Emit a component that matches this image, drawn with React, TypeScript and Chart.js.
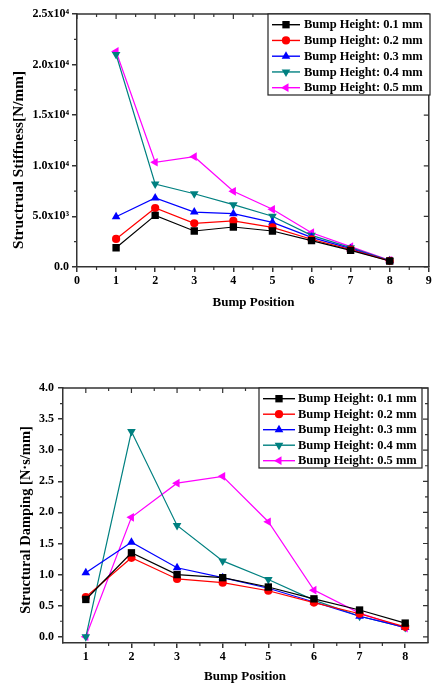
import React, { useEffect, useRef } from "react";
import { Chart, registerables } from "chart.js";

Chart.register(...registerables);

// ---------------- data ----------------
const positions = [1, 2, 3, 4, 5, 6, 7, 8];
const seriesLabels = [
  "Bump Height: 0.1 mm",
  "Bump Height: 0.2 mm",
  "Bump Height: 0.3 mm",
  "Bump Height: 0.4 mm",
  "Bump Height: 0.5 mm",
];

const stiff01 = [1900, 5100, 3560, 3950, 3560, 2600, 1650, 590];
const stiff02 = [2770, 5830, 4320, 4550, 3920, 2740, 1710, 600];
const stiff03 = [4970, 6820, 5430, 5270, 4410, 2930, 1810, 620];
const stiff04 = [21000, 8200, 7240, 6160, 5010, 3130, 1910, 640];
const stiff05 = [21300, 10350, 10900, 7480, 5700, 3390, 2010, 650];

const damp01 = [0.6, 1.35, 1.0, 0.95, 0.8, 0.61, 0.43, 0.22];
const damp02 = [0.64, 1.27, 0.93, 0.87, 0.74, 0.55, 0.37, 0.16];
const damp03 = [1.03, 1.52, 1.11, 0.95, 0.78, 0.56, 0.33, 0.15];
const damp04 = [0.0, 3.3, 1.79, 1.22, 0.92, 0.59, 0.33, 0.15];
const damp05 = [0.0, 1.92, 2.47, 2.58, 1.85, 0.75, 0.38, 0.14];

const stiffXTicks = [0, 1, 2, 3, 4, 5, 6, 7, 8, 9];
const stiffXMinor = [0.5, 1.5, 2.5, 3.5, 4.5, 5.5, 6.5, 7.5, 8.5];
const stiffYTicks = [0, 5000, 10000, 15000, 20000, 25000];
const stiffYTickLabels = ["0.0", "5.0x10³", "1.0x10⁴", "1.5x10⁴", "2.0x10⁴", "2.5x10⁴"];
const stiffYMinor = [2500, 7500, 12500, 17500, 22500];

const dampXTicks = [1, 2, 3, 4, 5, 6, 7, 8];
const dampXMinor = [1.5, 2.5, 3.5, 4.5, 5.5, 6.5, 7.5];
const dampYTicks = [0, 0.5, 1.0, 1.5, 2.0, 2.5, 3.0, 3.5, 4.0];
const dampYTickLabels = ["0.0", "0.5", "1.0", "1.5", "2.0", "2.5", "3.0", "3.5", "4.0"];
const dampYMinor = [0.25, 0.75, 1.25, 1.75, 2.25, 2.75, 3.25, 3.75];

// ---------------- styles ----------------
const FONT = "'Liberation Serif', 'Times New Roman', serif";
const AXIS_COLOR = "#333333";
const seriesColors = ["#000000", "#ff0000", "#0000ff", "#008080", "#ff00ff"];
const pointStyles = ["rect", "circle", "triangle", "triangle", "triangle"];
const pointRotations = [0, 0, 0, 180, 270];
const pointRadii = [5.2, 4.1, 5.0, 5.0, 5.0];

function makeDatasets(series: number[][]) {
  return series.map((vals, i) => ({
    label: seriesLabels[i],
    data: vals.map((v, j) => ({ x: positions[j], y: v })),
    borderColor: seriesColors[i],
    backgroundColor: seriesColors[i],
    borderWidth: 1.2,
    pointStyle: pointStyles[i],
    rotation: pointRotations[i],
    pointRadius: pointRadii[i],
    pointBorderWidth: 0,
    pointBackgroundColor: seriesColors[i],
    tension: 0,
  }));
}

function drawMarker(ctx: CanvasRenderingContext2D, i: number, x: number, y: number) {
  const r = pointRadii[i];
  ctx.fillStyle = seriesColors[i];
  ctx.beginPath();
  if (pointStyles[i] === "rect") {
    const s = Math.SQRT1_2 * r;
    ctx.rect(x - s, y - s, 2 * s, 2 * s);
  } else if (pointStyles[i] === "circle") {
    ctx.arc(x, y, r, 0, Math.PI * 2);
  } else {
    let rad = (pointRotations[i] * Math.PI) / 180;
    for (let k = 0; k < 3; k++) {
      const px = x + Math.sin(rad) * r;
      const py = y - Math.cos(rad) * r;
      if (k === 0) ctx.moveTo(px, py);
      else ctx.lineTo(px, py);
      rad += (2 * Math.PI) / 3;
    }
    ctx.closePath();
  }
  ctx.fill();
}

type FrameCfg = {
  xMajor: number[];
  xMinor: number[];
  yMajor: number[];
  yMinor: number[];
  xTitle: string;
  xTitlePos: [number, number];
  yTitle: string;
  yTitlePos: [number, number];
  yTitleSize: number;
  legendBox: [number, number, number, number];
  legendRow0: number;
  legendRowGap: number;
  legendLine: [number, number];
  legendMarkerX: number;
  legendTextX: number;
};

function makeFramePlugin(cfg: FrameCfg) {
  return {
    id: "frameDecor",
    afterDraw(chart: any) {
      const ctx: CanvasRenderingContext2D = chart.ctx;
      const a = chart.chartArea;
      const xs = chart.scales.x;
      const ys = chart.scales.y;
      ctx.save();
      ctx.strokeStyle = AXIS_COLOR;
      ctx.lineWidth = 1.5;
      ctx.beginPath();
      ctx.moveTo(a.left, a.top);
      ctx.lineTo(a.right, a.top);
      ctx.lineTo(a.right, a.bottom);
      ctx.stroke();

      ctx.lineWidth = 1.2;
      ctx.beginPath();
      const seg = (x1: number, y1: number, x2: number, y2: number) => {
        ctx.moveTo(x1, y1);
        ctx.lineTo(x2, y2);
      };
      cfg.xMajor.forEach((v) => {
        const px = xs.getPixelForValue(v);
        seg(px, a.top, px, a.top + 5);
      });
      cfg.xMinor.forEach((v) => {
        const px = xs.getPixelForValue(v);
        seg(px, a.top, px, a.top + 3);
        seg(px, a.bottom, px, a.bottom + 3);
      });
      cfg.yMajor.forEach((v) => {
        const py = ys.getPixelForValue(v);
        seg(a.right, py, a.right - 5, py);
      });
      cfg.yMinor.forEach((v) => {
        const py = ys.getPixelForValue(v);
        seg(a.right, py, a.right - 3, py);
        seg(a.left, py, a.left - 3, py);
      });
      ctx.stroke();

      // axis titles
      ctx.fillStyle = "#000";
      ctx.textAlign = "center";
      ctx.textBaseline = "middle";
      ctx.font = `bold 13px ${FONT}`;
      ctx.fillText(cfg.xTitle, cfg.xTitlePos[0], cfg.xTitlePos[1]);
      ctx.save();
      ctx.translate(cfg.yTitlePos[0], cfg.yTitlePos[1]);
      ctx.rotate(-Math.PI / 2);
      ctx.font = `bold ${cfg.yTitleSize}px ${FONT}`;
      ctx.fillText(cfg.yTitle, 0, 0);
      ctx.restore();

      // legend
      const [bx, by, bw, bh] = cfg.legendBox;
      ctx.fillStyle = "#fff";
      ctx.fillRect(bx, by, bw, bh);
      ctx.strokeStyle = "#222";
      ctx.lineWidth = 1.2;
      ctx.strokeRect(bx, by, bw, bh);
      ctx.font = `bold 12.5px ${FONT}`;
      ctx.textAlign = "left";
      ctx.textBaseline = "middle";
      seriesLabels.forEach((lab, i) => {
        const ry = cfg.legendRow0 + i * cfg.legendRowGap;
        ctx.strokeStyle = seriesColors[i];
        ctx.lineWidth = 1.4;
        ctx.beginPath();
        ctx.moveTo(cfg.legendLine[0], ry);
        ctx.lineTo(cfg.legendLine[1], ry);
        ctx.stroke();
        drawMarker(ctx, i, cfg.legendMarkerX, ry);
        ctx.fillStyle = "#000";
        ctx.fillText(lab, cfg.legendTextX, ry + 0.5);
      });
      ctx.restore();
    },
  };
}

function axisCommon() {
  return {
    grid: {
      display: true,
      drawOnChartArea: false,
      drawTicks: true,
      tickLength: 5,
      color: AXIS_COLOR,
      lineWidth: 1.5,
    },
    border: { display: true, color: AXIS_COLOR, width: 1.5 },
  };
}

function buildConfig(
  series: number[][],
  xMin: number,
  xMax: number,
  xTicks: number[],
  yMin: number,
  yMax: number,
  yTicks: number[],
  yLabels: string[],
  yWidth: number,
  xHeight: number,
  padding: any,
  yPad: number,
  plugin: any
): any {
  return {
    type: "line",
    data: { datasets: makeDatasets(series) },
    options: {
      responsive: false,
      animation: false,
      devicePixelRatio: 1,
      layout: { padding },
      plugins: { legend: { display: false }, tooltip: { enabled: false }, title: { display: false } },
      scales: {
        x: {
          type: "linear",
          min: xMin,
          max: xMax,
          ...axisCommon(),
          afterBuildTicks: (s: any) => {
            s.ticks = xTicks.map((v) => ({ value: v }));
          },
          afterFit: (s: any) => {
            s.height = xHeight;
          },
          ticks: {
            autoSkip: false,
            maxRotation: 0,
            padding: 2,
            color: "#000",
            font: { family: FONT, weight: "bold", size: 12 },
            callback: (v: number) => String(v),
          },
        },
        y: {
          type: "linear",
          min: yMin,
          max: yMax,
          ...axisCommon(),
          afterBuildTicks: (s: any) => {
            s.ticks = yTicks.map((v) => ({ value: v }));
          },
          afterFit: (s: any) => {
            s.width = yWidth;
          },
          ticks: {
            autoSkip: false,
            padding: yPad,
            color: "#000",
            font: { family: FONT, weight: "bold", size: 12 },
            callback: (v: number) => {
              const k = yTicks.findIndex((t) => Math.abs(t - v) < 1e-9);
              return k >= 0 ? yLabels[k] : "";
            },
          },
        },
      },
    },
    plugins: [plugin],
  };
}

export default function App() {
  const ref1 = useRef<HTMLCanvasElement>(null);
  const ref2 = useRef<HTMLCanvasElement>(null);

  useEffect(() => {
    const plugin1 = makeFramePlugin({
      xMajor: stiffXTicks,
      xMinor: stiffXMinor,
      yMajor: stiffYTicks,
      yMinor: stiffYMinor,
      xTitle: "Bump Position",
      xTitlePos: [253.5, 302.5],
      yTitle: "Structrual Stiffness[N/mm]",
      yTitlePos: [19, 160],
      yTitleSize: 15.3,
      legendBox: [268, 14, 162, 81],
      legendRow0: 24.7,
      legendRowGap: 15.75,
      legendLine: [272, 300],
      legendMarkerX: 286,
      legendTextX: 304,
    });
    const plugin2 = makeFramePlugin({
      xMajor: dampXTicks,
      xMinor: dampXMinor,
      yMajor: dampYTicks,
      yMinor: dampYMinor,
      xTitle: "Bump Position",
      xTitlePos: [245, 336.5],
      yTitle: "Structural Damping [N·s/mm]",
      yTitlePos: [26, 180],
      yTitleSize: 14.5,
      legendBox: [259, 48, 163, 80],
      legendRow0: 58.7,
      legendRowGap: 15.5,
      legendLine: [263, 295],
      legendMarkerX: 279,
      legendTextX: 298,
    });
    const c1 = new Chart(
      ref1.current!,
      buildConfig(
        [stiff01, stiff02, stiff03, stiff04, stiff05],
        0, 9, stiffXTicks,
        0, 25000, stiffYTicks, stiffYTickLabels,
        77, 43,
        { left: 0, top: 14, right: 4, bottom: 0 },
        3,
        plugin1
      )
    );
    const c2 = new Chart(
      ref2.current!,
      buildConfig(
        [damp01, damp02, damp03, damp04, damp05],
        0.5, 8.5, dampXTicks,
        -0.1, 4.0, dampYTicks, dampYTickLabels,
        63, 41,
        { left: 0, top: 48, right: 6, bottom: 0 },
        4,
        plugin2
      )
    );
    return () => {
      c1.destroy();
      c2.destroy();
    };
  }, []);

  return (
    <div style={{ position: "absolute", left: 0, top: 0, width: 434, height: 684, background: "#fff" }}>
      <canvas
        ref={ref1}
        width={434}
        height={310}
        style={{ position: "absolute", left: 0, top: 0, width: 434, height: 310, display: "block" }}
      />
      <canvas
        ref={ref2}
        width={434}
        height={344}
        style={{ position: "absolute", left: 0, top: 340, width: 434, height: 344, display: "block" }}
      />
    </div>
  );
}
